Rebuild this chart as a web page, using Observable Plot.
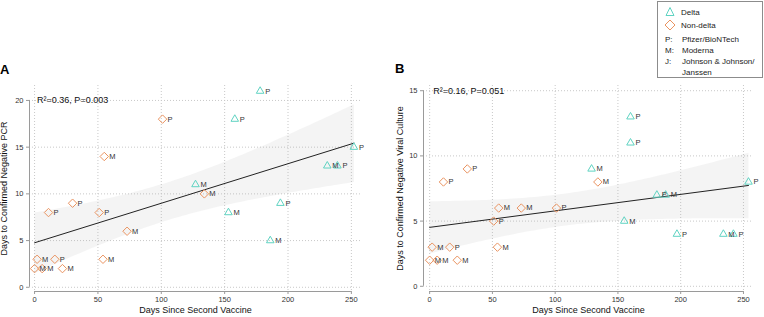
<!DOCTYPE html>
<html><head><meta charset="utf-8">
<script src="https://cdn.jsdelivr.net/npm/d3@7"></script>
<script src="https://cdn.jsdelivr.net/npm/@observablehq/plot@0.6"></script>
<style>
body{margin:0;background:#fff;font-family:"Liberation Sans",Arial,Helvetica,sans-serif;}
#wrap{position:relative;width:764px;height:317px;overflow:hidden;background:#fff;}
.panel{position:absolute;top:0;}
.letter{position:absolute;font-weight:bold;font-size:13px;line-height:13px;color:#000;}
#legend{position:absolute;left:657px;top:1px;width:106px;height:77px;border:1px solid #8c8c8c;box-sizing:border-box;font-size:8px;color:#222;}
#legend .row{position:absolute;white-space:nowrap;line-height:9px;}
</style></head>
<body>
<div id="wrap">
  <div id="pa" class="panel" style="left:0"></div>
  <div id="pb" class="panel" style="left:382px"></div>
  <div class="letter" style="left:0px;top:63px">A</div>
  <div class="letter" style="left:395px;top:62px">B</div>
  <div id="legend"></div>
</div>
<script>
// ---- data ----
const nonDeltaX   = [0, 2, 6, 11, 16, 22, 30, 51, 54, 55, 73, 101, 134];
const nonDeltaVac = ["M","M","M","P","P","M","P","P","M","M","M","P","M"];
const nonDeltaPCR = [2, 3, 2, 8, 3, 2, 9, 8, 3, 14, 6, 18, 10];
const nonDeltaCul = [2, 3, 2, 8, 3, 2, 9, 5, 3, 6, 6, 6, 8];

const deltaPcrX   = [127, 153, 158, 178, 186, 194, 231, 239, 252];
const deltaPcrY   = [11, 8, 18, 21, 5, 9, 13, 13, 15];
const deltaPcrVac = ["M","M","P","P","M","P","M","P","P"];

const deltaCulX   = [129, 155, 160, 160, 181, 188, 197, 234, 242, 254];
const deltaCulY   = [9, 5, 13, 11, 7, 7, 4, 4, 4, 8];
const deltaCulVac = ["M","M","P","P","P","M","P","M","P","P"];

const xTicks = [0, 50, 100, 150, 200, 250];
const yTicksA = [0, 5, 10, 15, 20];
const yTicksB = [0, 5, 10, 15];
const statA = "R²=0.36, P=0.003";
const statB = "R²=0.16, P=0.051";
const yTitleA = "Days to Confirmed Negative PCR";
const yTitleB = "Days to Confirmed Negative Viral Culture";
const xTitle = "Days Since Second Vaccine";

const TEAL = "#5fd3c2", ORANGE = "#ea9360";
const FONT = '"Liberation Sans", Arial, Helvetica, sans-serif';

const zip = (xs, ys, vs, g) => xs.map((x, i) => ({x, y: ys[i], vac: vs[i], group: g}));

function panel({nd, dl, xDomain, yDomain, yTicks, marginLeft, marginRight, stat, statX, yTitle, yTitleDx}) {
  const all = nd.concat(dl);
  return Plot.plot({
    width: 382, height: 317,
    marginLeft, marginRight, marginTop: 85, marginBottom: 26,
    x: {domain: xDomain},
    y: {domain: yDomain},
    style: {fontFamily: FONT, fontSize: "7.5px", color: "#333", background: "transparent", overflow: "visible"},
    marks: [
      Plot.gridY(yTicks, {stroke: "#c8c8c8", strokeOpacity: 1, strokeDasharray: "1,2"}),
      Plot.gridX(xTicks, {stroke: "#c8c8c8", strokeOpacity: 1, strokeDasharray: "1,2"}),
      Plot.ruleX([xDomain[0]], {y1: 0, y2: yTicks[yTicks.length - 1], stroke: "#9a9a9a"}),
      Plot.ruleY([yDomain[0]], {x1: 0, x2: 250, stroke: "#9a9a9a"}),
      Plot.axisY(yTicks, {tickSize: 3, tickPadding: 3, stroke: "#9a9a9a", fill: "#333", label: null}),
      Plot.axisX(xTicks, {tickSize: 3, tickPadding: 2, stroke: "#9a9a9a", fill: "#333", label: null}),
      Plot.linearRegressionY(all, {x: "x", y: "y", stroke: "#222", strokeWidth: 1, fill: "#aaa", fillOpacity: 0.13}),
      Plot.dot(dl, {x: "x", y: "y", symbol: "triangle2", r: 3.6, stroke: TEAL, fill: "none", strokeWidth: 1}),
      Plot.dot(nd, {x: "x", y: "y", symbol: "diamond2", r: 3.8, stroke: ORANGE, fill: "none", strokeWidth: 1}),
      Plot.text(all, {x: "x", y: "y", text: "vac", dx: 5, textAnchor: "start", fill: "#333", fontSize: 7.5}),
      Plot.text([stat], {x: statX, y: yTicks[yTicks.length - 1], text: d => d, textAnchor: "start", fill: "#111", fontSize: 9}),
      Plot.text([yTitle], {frameAnchor: "left", textAnchor: "middle", rotate: -90, dx: yTitleDx, text: d => d, fill: "#111", fontSize: 9}),
      Plot.text([xTitle], {frameAnchor: "bottom", textAnchor: "middle", dy: 21, text: d => d, fill: "#111", fontSize: 9})
    ]
  });
}

document.getElementById("pa").append(panel({
  nd: zip(nonDeltaX, nonDeltaPCR, nonDeltaVac, "Non-delta"),
  dl: zip(deltaPcrX, deltaPcrY, deltaPcrVac, "Delta"),
  xDomain: [-4, 258], yDomain: [-0.45, 21.6], yTicks: yTicksA,
  marginLeft: 29, marginRight: 21, stat: statA, statX: 2, yTitle: yTitleA, yTitleDx: -25
}));
document.getElementById("pb").append(panel({
  nd: zip(nonDeltaX, nonDeltaCul, nonDeltaVac, "Non-delta"),
  dl: zip(deltaCulX, deltaCulY, deltaCulVac, "Delta"),
  xDomain: [-4.9, 258], yDomain: [-0.4, 15.4], yTicks: yTicksB,
  marginLeft: 41, marginRight: 11, stat: statB, statX: 2.8, yTitle: yTitleB, yTitleDx: -23.5
}));

// ---- legend ----
const legendRows = [
  {sym: "triangle", text: "Delta", y: 6},
  {sym: "diamond", text: "Non-delta", y: 19},
  {key: "P:", text: "Pfizer/BioNTech", y: 33},
  {key: "M:", text: "Moderna", y: 44},
  {key: "J:", text: "Johnson & Johnson/", y: 55},
  {key: "", text: "Janssen", y: 66}
];
const lg = document.getElementById("legend");
for (const r of legendRows) {
  if (r.sym) {
    const s = document.createElementNS("http://www.w3.org/2000/svg", "svg");
    s.setAttribute("width", 12); s.setAttribute("height", 12);
    s.style.position = "absolute"; s.style.left = "6px"; s.style.top = (r.y - 2) + "px";
    const p = document.createElementNS("http://www.w3.org/2000/svg", "path");
    p.setAttribute("d", r.sym === "triangle" ? "M6,1.5L10,9.5L2,9.5Z" : "M6,1L11,6L6,11L1,6Z");
    p.setAttribute("fill", "none");
    p.setAttribute("stroke", r.sym === "triangle" ? TEAL : ORANGE);
    s.append(p); lg.append(s);
  } else if (r.key) {
    const k = document.createElement("div");
    k.className = "row"; k.style.left = "7px"; k.style.top = r.y + "px"; k.textContent = r.key;
    lg.append(k);
  }
  const t = document.createElement("div");
  t.className = "row"; t.style.left = (r.sym ? 23 : 24) + "px"; t.style.top = r.y + "px"; t.textContent = r.text;
  lg.append(t);
}
</script>
</body></html>
